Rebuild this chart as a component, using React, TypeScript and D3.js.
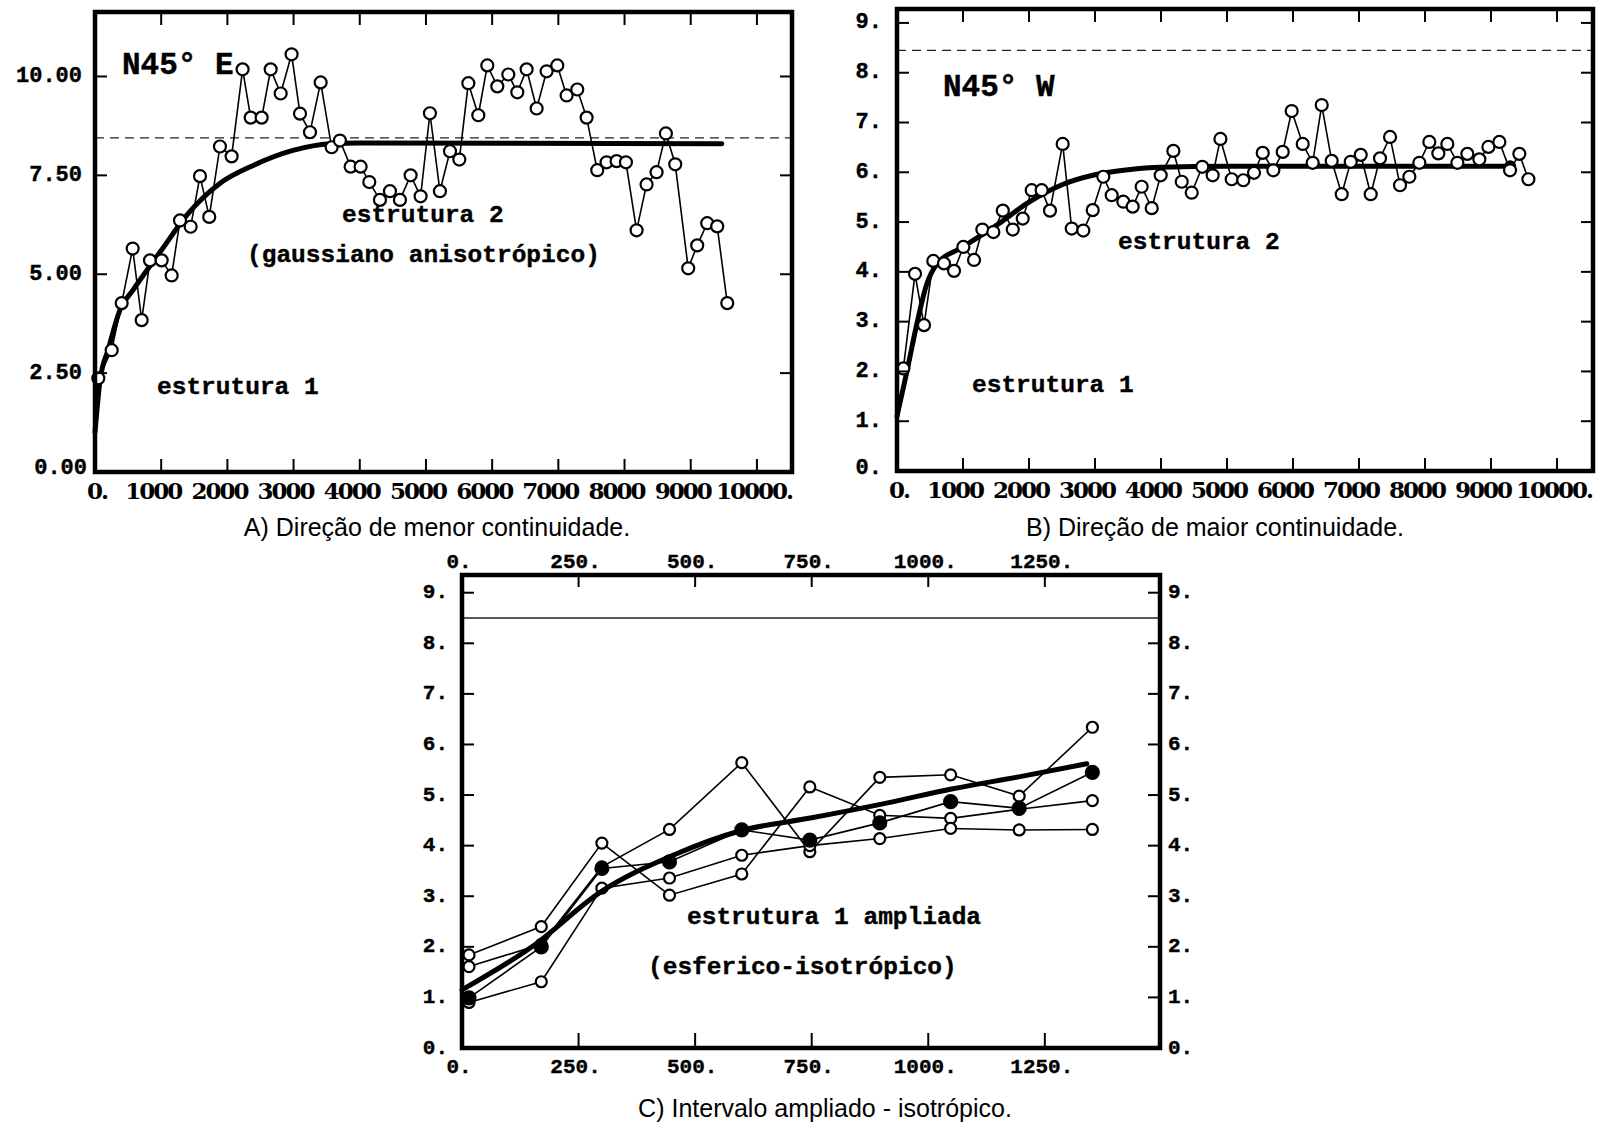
import React from 'react';
import * as d3 from 'd3';

// ---------- Panel A (N45°E) ----------
const lagA = [50, 252, 403, 569, 705, 831, 1007, 1158, 1284, 1445, 1586, 1726, 1888, 2064, 2230, 2352, 2518, 2654, 2805, 2970, 3097, 3248, 3409, 3575, 3700, 3862, 4013, 4144, 4305, 4456, 4607, 4768, 4919, 5060, 5211, 5363, 5504, 5640, 5791, 5927, 6078, 6244, 6380, 6521, 6672, 6823, 6984, 7125, 7286, 7427, 7588, 7729, 7880, 8021, 8182, 8333, 8484, 8625, 8766, 8962, 9098, 9249, 9400, 9552];
const gammaA = [2.37, 3.08, 4.27, 5.65, 3.84, 5.35, 5.35, 4.97, 6.36, 6.2, 7.48, 6.45, 8.23, 7.98, 10.18, 8.96, 8.96, 10.18, 9.57, 10.56, 9.06, 8.59, 9.85, 8.21, 8.38, 7.72, 7.72, 7.33, 6.88, 7.1, 6.88, 7.5, 6.97, 9.07, 7.1, 8.11, 7.9, 9.83, 9.02, 10.28, 9.75, 10.05, 9.6, 10.18, 9.19, 10.13, 10.28, 9.52, 9.67, 8.96, 7.63, 7.83, 7.86, 7.83, 6.11, 7.27, 7.58, 8.56, 7.78, 5.15, 5.73, 6.29, 6.21, 4.27];
const modelLagA = [0, 75, 200, 378, 574, 1000, 1390, 1890, 2390, 2990, 3550, 4000, 9470];
const modelA = [1.0, 2.3, 3.1, 4.1, 4.6, 5.6, 6.5, 7.3, 7.75, 8.13, 8.3, 8.32, 8.3];
const sillA = 8.45;
const yTicksA = [2.5, 5, 7.5, 10];
const yLabelsA = ['0.00', '2.50', '5.00', '7.50', '10.00'];
const xTicksAB = [1000, 2000, 3000, 4000, 5000, 6000, 7000, 8000, 9000, 10000];
const xLabelsAB = ['0.', '1000', '2000', '3000', '4000', '5000', '6000', '7000', '8000', '9000', '10000.'];

// ---------- Panel B (N45°W) ----------
const lagB = [96, 273, 409, 550, 712, 864, 1005, 1167, 1293, 1460, 1603, 1754, 1905, 2041, 2192, 2318, 2510, 2647, 2823, 2965, 3126, 3253, 3429, 3571, 3707, 3859, 3995, 4187, 4314, 4465, 4625, 4783, 4900, 5071, 5247, 5409, 5541, 5702, 5844, 5980, 6147, 6298, 6435, 6586, 6738, 6874, 7026, 7177, 7318, 7470, 7621, 7763, 7914, 8065, 8202, 8338, 8490, 8641, 8823, 8960, 9126, 9288, 9429, 9566];
const gammaB = [2.06, 3.96, 2.93, 4.22, 4.17, 4.02, 4.5, 4.24, 4.85, 4.8, 5.23, 4.85, 5.07, 5.64, 5.64, 5.23, 6.57, 4.87, 4.83, 5.24, 5.91, 5.54, 5.41, 5.31, 5.71, 5.28, 5.94, 6.43, 5.81, 5.59, 6.11, 5.94, 6.67, 5.86, 5.84, 5.99, 6.39, 6.04, 6.41, 7.23, 6.57, 6.19, 7.35, 6.23, 5.56, 6.21, 6.35, 5.56, 6.28, 6.71, 5.74, 5.91, 6.19, 6.61, 6.38, 6.57, 6.19, 6.37, 6.26, 6.51, 6.61, 6.04, 6.37, 5.86];
const modelLagB = [0, 150, 300, 450, 600, 1000, 1500, 2000, 2500, 3000, 3500, 4000, 5000, 9290];
const modelB = [1.1, 2.0, 2.95, 3.75, 4.15, 4.5, 4.93, 5.4, 5.75, 5.95, 6.05, 6.1, 6.12, 6.12];
const sillB = 8.45;
const yTicksB = [1, 2, 3, 4, 5, 6, 7, 8, 9];
const yLabelsB = ['0.', '1.', '2.', '3.', '4.', '5.', '6.', '7.', '8.', '9.'];

// ---------- Panel C (isotropic, short range) ----------
const lagC = [15, 170, 300, 445, 600, 746, 896, 1048, 1195, 1352];
const gammaC1 = [1.84, 2.4, 4.05, 3.02, 3.44, 5.16, 4.6, 4.54, 4.72, 4.89];
const gammaC2 = [1.61, 2.05, 3.58, 4.32, 5.64, 3.88, 5.35, 5.4, 4.98, 6.34];
const gammaC3 = [0.9, 1.31, 3.16, 3.36, 3.81, 4.0, 4.14, 4.34, 4.31, 4.32];
const gammaCavg = [0.99, 2.0, 3.55, 3.68, 4.31, 4.11, 4.45, 4.87, 4.74, 5.45];
const modelLagC = [0, 150, 300, 450, 600, 750, 900, 1050, 1200, 1340];
const modelC = [1.15, 2.0, 3.1, 3.8, 4.3, 4.55, 4.82, 5.12, 5.37, 5.62];
const sillC = 8.5;
const xTicksC = [250, 500, 750, 1000, 1250];
const xLabelsC = ['0.', '250.', '500.', '750.', '1000.', '1250.'];
const yTicksC = [1, 2, 3, 4, 5, 6, 7, 8, 9];
const yLabelsC = ['0.', '1.', '2.', '3.', '4.', '5.', '6.', '7.', '8.', '9.'];

const MONO = '"Liberation Mono", "DejaVu Sans Mono", monospace';
const SERIF = '"DejaVu Serif", serif';
const SANS = '"Liberation Sans", Arial, sans-serif';

type Sc = d3.ScaleLinear<number, number>;

function pairs(xs: number[], ys: number[]): [number, number][] {
  return xs.map((v, i) => [v, ys[i]] as [number, number]);
}

function Frame({ x, y }: { x: Sc; y: Sc }) {
  const [x0, x1] = x.range();
  const [y0, y1] = y.range();
  return <rect x={x0} y={y1} width={x1 - x0} height={y0 - y1} fill="none" stroke="#000" strokeWidth={4.5} />;
}

function Series({ x, y, xs, ys, filled = false, r = 6 }: { x: Sc; y: Sc; xs: number[]; ys: number[]; filled?: boolean; r?: number }) {
  const line = d3.line<[number, number]>().x((d) => x(d[0])).y((d) => y(d[1]));
  const pts = pairs(xs, ys);
  return (
    <g>
      <path d={line(pts) || ''} fill="none" stroke="#000" strokeWidth={1.6} />
      {pts.map((p, i) => (
        <circle key={i} cx={x(p[0])} cy={y(p[1])} r={r} fill={filled ? '#000' : '#fff'} stroke="#000" strokeWidth={2.2} />
      ))}
    </g>
  );
}

function Model({ x, y, xs, ys }: { x: Sc; y: Sc; xs: number[]; ys: number[] }) {
  const line = d3.line<[number, number]>().x((d) => x(d[0])).y((d) => y(d[1])).curve(d3.curveMonotoneX);
  return <path d={line(pairs(xs, ys)) || ''} fill="none" stroke="#000" strokeWidth={5} strokeLinecap="round" />;
}

export default function App() {
  const xA = d3.scaleLinear().domain([0, 10530]).range([95, 792]);
  const yA = d3.scaleLinear().domain([0, 11.63]).range([472, 12]);
  const xB = d3.scaleLinear().domain([0, 10545]).range([897, 1593]);
  const yB = d3.scaleLinear().domain([0, 9.28]).range([471, 9]);
  const xC = d3.scaleLinear().domain([0, 1497]).range([462, 1160]);
  const yC = d3.scaleLinear().domain([0, 9.35]).range([1048, 575]);

  const tickLen = 13;
  const annot = { fontFamily: MONO, fontWeight: 700, fontSize: 24.5, stroke: '#000', strokeWidth: 0.4 } as const;
  const lab = { fontFamily: MONO, fontWeight: 700, stroke: '#000', strokeWidth: 0.4 } as const;

  const xLabelAB = (sc: Sc, yPos: number) =>
    [0, ...xTicksAB].map((v, i) => {
      const t = xLabelsAB[i];
      const off = i === 0 ? 2 : t.endsWith('.') ? -3 : -8;
      return (
        <text key={'xl' + i} x={sc(v) + off} y={yPos} textAnchor="middle" dominantBaseline="central"
          fontFamily={SERIF} fontWeight={700} fontSize={23} letterSpacing={-2}>
          {t}
        </text>
      );
    });

  return (
    <svg width={1606} height={1131} style={{ position: 'absolute', left: 0, top: 0, background: '#fff' }}>
      <rect x={0} y={0} width={1606} height={1131} fill="#fff" />

      {/* ================= Panel A ================= */}
      <g>
        <line x1={xA.range()[0]} x2={xA.range()[1]} y1={yA(sillA)} y2={yA(sillA)} stroke="#222" strokeWidth={1.3} strokeDasharray="9 6" />
        <Model x={xA} y={yA} xs={modelLagA} ys={modelA} />
        <Series x={xA} y={yA} xs={lagA} ys={gammaA} />
        <Frame x={xA} y={yA} />
        {xTicksAB.map((v) => (
          <g key={'at' + v}>
            <line x1={xA(v)} x2={xA(v)} y1={yA.range()[1]} y2={yA.range()[1] + tickLen} stroke="#000" strokeWidth={2} />
            <line x1={xA(v)} x2={xA(v)} y1={yA.range()[0]} y2={yA.range()[0] - tickLen} stroke="#000" strokeWidth={2} />
          </g>
        ))}
        {yTicksA.map((v) => (
          <g key={'ay' + v}>
            <line x1={xA.range()[0]} x2={xA.range()[0] + 12} y1={yA(v)} y2={yA(v)} stroke="#000" strokeWidth={2} />
            <line x1={xA.range()[1]} x2={xA.range()[1] - 12} y1={yA(v)} y2={yA(v)} stroke="#000" strokeWidth={2} />
          </g>
        ))}
        {[0, ...yTicksA].map((v, i) => (
          <text key={'ayl' + i} x={v === 0 ? 87 : 82} y={v === 0 ? yA(v) - 4 : yA(v)} textAnchor="end" dominantBaseline="central"
            fontSize={22} {...lab}>
            {yLabelsA[i]}
          </text>
        ))}
        {xLabelAB(xA, 490)}
        <text x={122} y={65} dominantBaseline="central" fontSize={31} {...lab}>N45° E</text>
        <text x={342} y={215} dominantBaseline="central" {...annot}>estrutura 2</text>
        <text x={247} y={255} dominantBaseline="central" {...annot}>(gaussiano anisotrópico)</text>
        <text x={157} y={387} dominantBaseline="central" {...annot}>estrutura 1</text>
        <text x={437} y={527} textAnchor="middle" dominantBaseline="central" fontFamily={SANS} fontSize={25}>
          A) Direção de menor continuidade.
        </text>
      </g>

      {/* ================= Panel B ================= */}
      <g>
        <line x1={xB.range()[0]} x2={xB.range()[1]} y1={yB(sillB)} y2={yB(sillB)} stroke="#222" strokeWidth={1.3} strokeDasharray="9 6" />
        <Model x={xB} y={yB} xs={modelLagB} ys={modelB} />
        <circle cx={xB(modelLagB[modelLagB.length - 1])} cy={yB(modelB[modelB.length - 1])} r={6} fill="#000" />
        <Series x={xB} y={yB} xs={lagB} ys={gammaB} />
        <Frame x={xB} y={yB} />
        {xTicksAB.map((v) => (
          <g key={'bt' + v}>
            <line x1={xB(v)} x2={xB(v)} y1={yB.range()[1]} y2={yB.range()[1] + tickLen} stroke="#000" strokeWidth={2} />
            <line x1={xB(v)} x2={xB(v)} y1={yB.range()[0]} y2={yB.range()[0] - tickLen} stroke="#000" strokeWidth={2} />
          </g>
        ))}
        {yTicksB.map((v) => (
          <g key={'by' + v}>
            <line x1={xB.range()[0]} x2={xB.range()[0] + 12} y1={yB(v)} y2={yB(v)} stroke="#000" strokeWidth={2} />
            <line x1={xB.range()[1]} x2={xB.range()[1] - 12} y1={yB(v)} y2={yB(v)} stroke="#000" strokeWidth={2} />
          </g>
        ))}
        {[0, ...yTicksB].map((v, i) => (
          <text key={'byl' + i} x={882} y={v === 0 ? yB(v) - 3 : yB(v)} textAnchor="end" dominantBaseline="central"
            fontSize={22} {...lab}>
            {yLabelsB[i]}
          </text>
        ))}
        {xLabelAB(xB, 489)}
        <text x={943} y={87} dominantBaseline="central" fontSize={31} {...lab}>N45° W</text>
        <text x={1118} y={242} dominantBaseline="central" {...annot}>estrutura 2</text>
        <text x={972} y={385} dominantBaseline="central" {...annot}>estrutura 1</text>
        <text x={1215} y={527} textAnchor="middle" dominantBaseline="central" fontFamily={SANS} fontSize={25}>
          B) Direção de maior continuidade.
        </text>
      </g>

      {/* ================= Panel C ================= */}
      <g>
        <line x1={xC.range()[0]} x2={xC.range()[1]} y1={yC(sillC)} y2={yC(sillC)} stroke="#222" strokeWidth={1.6} />
        <Series x={xC} y={yC} xs={lagC} ys={gammaC1} r={5.5} />
        <Series x={xC} y={yC} xs={lagC} ys={gammaC2} r={5.5} />
        <Series x={xC} y={yC} xs={lagC} ys={gammaC3} r={5.5} />
        <Model x={xC} y={yC} xs={modelLagC} ys={modelC} />
        <Series x={xC} y={yC} xs={lagC} ys={gammaCavg} filled r={6.5} />
        <Frame x={xC} y={yC} />
        {xTicksC.map((v) => (
          <g key={'ct' + v}>
            <line x1={xC(v)} x2={xC(v)} y1={yC.range()[1]} y2={yC.range()[1] + 12} stroke="#000" strokeWidth={2} />
            <line x1={xC(v)} x2={xC(v)} y1={yC.range()[0]} y2={yC.range()[0] - 15} stroke="#000" strokeWidth={2} />
          </g>
        ))}
        {yTicksC.map((v) => (
          <g key={'cy' + v}>
            <line x1={xC.range()[0]} x2={xC.range()[0] + 12} y1={yC(v)} y2={yC(v)} stroke="#000" strokeWidth={2} />
            <line x1={xC.range()[1]} x2={xC.range()[1] - 12} y1={yC(v)} y2={yC(v)} stroke="#000" strokeWidth={2} />
          </g>
        ))}
        {[0, ...yTicksC].map((v, i) => (
          <g key={'cyl' + i}>
            <text x={448} y={yC(v)} textAnchor="end" dominantBaseline="central" fontSize={21} {...lab}>
              {yLabelsC[i]}
            </text>
            <text x={1168} y={yC(v)} textAnchor="start" dominantBaseline="central" fontSize={21} {...lab}>
              {yLabelsC[i]}
            </text>
          </g>
        ))}
        {[0, ...xTicksC].map((v, i) => (
          <g key={'cxl' + i}>
            <text x={xC(v) - 3} y={562} textAnchor="middle" dominantBaseline="central" fontSize={21} {...lab}>
              {xLabelsC[i]}
            </text>
            <text x={xC(v) - 3} y={1067} textAnchor="middle" dominantBaseline="central" fontSize={21} {...lab}>
              {xLabelsC[i]}
            </text>
          </g>
        ))}
        <text x={687} y={917} dominantBaseline="central" {...annot}>estrutura 1 ampliada</text>
        <text x={648} y={967} dominantBaseline="central" {...annot}>(esferico-isotrópico)</text>
        <text x={825} y={1108} textAnchor="middle" dominantBaseline="central" fontFamily={SANS} fontSize={25}>
          C) Intervalo ampliado - isotrópico.
        </text>
      </g>
    </svg>
  );
}
